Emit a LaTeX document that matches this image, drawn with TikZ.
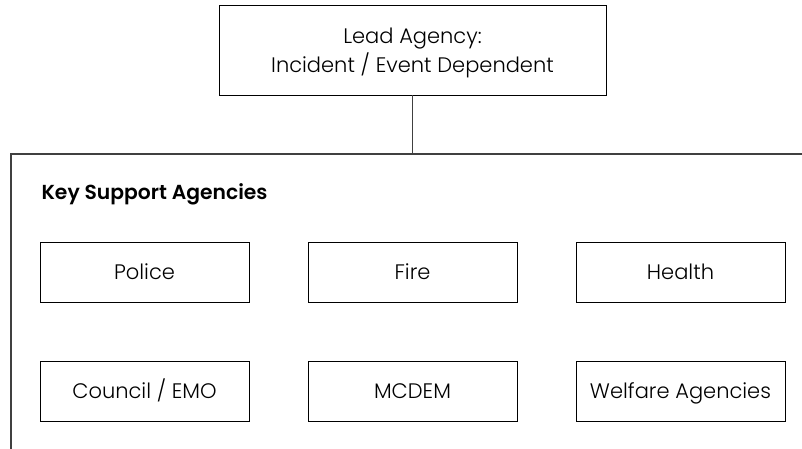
\documentclass[tikz,border=0pt]{standalone}
\usepackage{fontspec}
\setmainfont{Poppins}[UprightFont=* Light, BoldFont=* SemiBold]
\usetikzlibrary{positioning}
\tikzstyle{agency} = [rectangle, minimum width=209pt, minimum height=60pt, text centered, text height=15pt, text depth=2pt, draw=black, line width=0.8pt, font=\fontsize{21}{29}\selectfont]
\tikzstyle{lead} = [agency, minimum width=387pt, minimum height=90pt, text height=, text depth=0pt, align=center]
\tikzstyle{frame} = [line width=1.2pt, draw=black!75]

\begin{document}
\begin{tikzpicture}[x=1pt, y=-1pt, node distance=268pt]
\useasboundingbox (0,0) rectangle (802,449);
\node (lead) [lead] at (412.5,50) {Lead Agency:\\Incident / Event Dependent};
\coordinate (corner) at (11,154);

\draw [frame] (11,449) -- (corner) -- (802,154);
\draw [frame] (lead.south) -- (lead.south |- corner);

\node (title) [anchor=west, font=\bfseries\fontsize{20.3}{24}\selectfont] at (38,194) {Key Support Agencies};

\node (police) [agency] at (144.5,272.5) {Police};
\node (fire) [agency, right of=police] {Fire};
\node (health) [agency, right of=fire] {Health};
\node (council) [agency, below of=police, node distance=119pt] {Council / EMO};
\node (mcdem) [agency, right of=council] {MCDEM};
\node (welfare) [agency, right of=mcdem] {Welfare Agencies};
\end{tikzpicture}
\end{document}
